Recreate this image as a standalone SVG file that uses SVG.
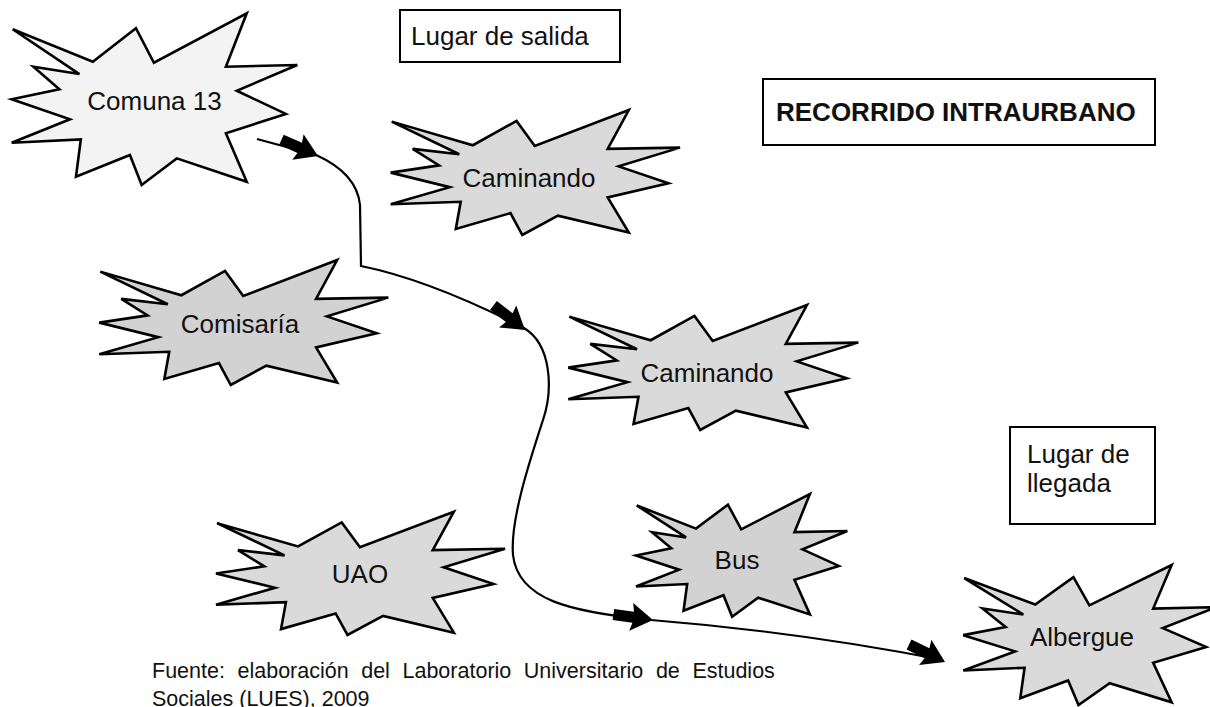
<svg xmlns="http://www.w3.org/2000/svg" width="1210" height="707" viewBox="0 0 1210 707">
<style>
  .lbl{font-family:"Liberation Sans",Arial,sans-serif;font-size:26px;fill:#111;}
  .ctr{text-anchor:middle;}
  .burst{stroke:#000;stroke-linejoin:miter;}
  .light{fill:#f3f3f3;}
  .gray{fill:#dadada;}
  .gray2{fill:#d2d2d2;}
  .box{fill:#fff;stroke:#000;stroke-width:2;}
  .conn{fill:none;stroke:#000;stroke-width:2.2;}
  .arr{fill:#000;stroke:none;}
  .foot{font-family:"Liberation Sans",Arial,sans-serif;font-size:21.5px;fill:#111;}
</style>
<defs>
  <path id="burst" vector-effect="non-scaling-stroke" stroke-width="2.6" d="M0.35,9.3 L28.4,28.2 L43.5,8.7 L49.8,28.8 L82.3,0 L75,31.1 L100,30.1 L78.8,45.1 L96,58.6 L75,69.9 L82.3,98.1 L57.8,84.5 L45.5,100 L41.4,82.5 L22.5,95.2 L24.2,73.4 L0,75.4 L20.4,61.7 L0,50.1 L16.7,44.3 L7.6,31.1 L23.7,35.4 Z"/>
  <polygon id="arrow" points="-40,-5.5 -20,-5.5 -22,-14 0,0 -22,14 -20,5.5 -40,5.5"/>
</defs>
<rect width="1210" height="707" fill="#fff"/>

<g id="connectors">
  <path class="conn" d="M257,139 L316,155 C345,168 358,185 360,205 L361,266 Q430,280 524,328 C552,345 553,390 543,420 C530,460 510,520 513,555 C518,600 570,612 651,620 Q800,632 943,660"/>
  <use href="#arrow" class="arr" transform="translate(318,156) rotate(24)"/>
  <use href="#arrow" class="arr" transform="translate(525,330) rotate(38)"/>
  <use href="#arrow" class="arr" transform="translate(653,620) rotate(8)"/>
  <use href="#arrow" class="arr" transform="translate(945,662) rotate(26)"/>
</g>

<g id="node-comuna13">
  <use href="#burst" class="burst light" transform="translate(11.7,13.3) scale(2.856,1.717)"/>
  <text class="lbl ctr" x="154.5" y="110">Comuna 13</text>
</g>
<g id="node-caminando1">
  <use href="#burst" class="burst gray" transform="translate(390.7,110) scale(2.893,1.25)"/>
  <text class="lbl ctr" x="529" y="187">Caminando</text>
</g>
<g id="node-comisaria">
  <use href="#burst" class="burst gray2" transform="translate(99.3,260) scale(2.89,1.25)"/>
  <text class="lbl ctr" x="240" y="333">Comisaría</text>
</g>
<g id="node-caminando2">
  <use href="#burst" class="burst gray" transform="translate(568.3,305) scale(2.9,1.25)"/>
  <text class="lbl ctr" x="707" y="382">Caminando</text>
</g>
<g id="node-uao">
  <use href="#burst" class="burst gray" transform="translate(216,511.7) scale(2.89,1.233)"/>
  <text class="lbl ctr" x="360" y="583">UAO</text>
</g>
<g id="node-bus">
  <use href="#burst" class="burst gray2" transform="translate(636,494) scale(2.113,1.227)"/>
  <text class="lbl ctr" x="737" y="569">Bus</text>
</g>
<g id="node-albergue">
  <use href="#burst" class="burst gray" transform="translate(963.3,565) scale(2.532,1.40)"/>
  <text class="lbl ctr" x="1082" y="646">Albergue</text>
</g>

<g id="box-salida">
  <rect class="box" x="400" y="10" width="220" height="52"/>
  <text class="lbl" x="411" y="45">Lugar de salida</text>
</g>
<g id="box-title">
  <rect class="box" x="763" y="79" width="392" height="66"/>
  <text class="lbl" x="776" y="121" font-weight="bold">RECORRIDO INTRAURBANO</text>
</g>
<g id="box-llegada">
  <rect class="box" x="1010" y="427" width="145" height="97"/>
  <text class="lbl" x="1027" y="463" font-size="25">Lugar de</text>
  <text class="lbl" x="1027" y="492" font-size="25">llegada</text>
</g>

<g id="caption">
  <text class="foot" y="678"><tspan x="152">Fuente:</tspan><tspan x="237.5">elaboración</tspan><tspan x="361.2">del</tspan><tspan x="402.5">Laboratorio</tspan><tspan x="523.8">Universitario</tspan><tspan x="655.9">de</tspan><tspan x="692.4">Estudios</tspan></text>
  <text class="foot" x="152" y="706">Sociales (LUES), 2009</text>
</g>
</svg>
